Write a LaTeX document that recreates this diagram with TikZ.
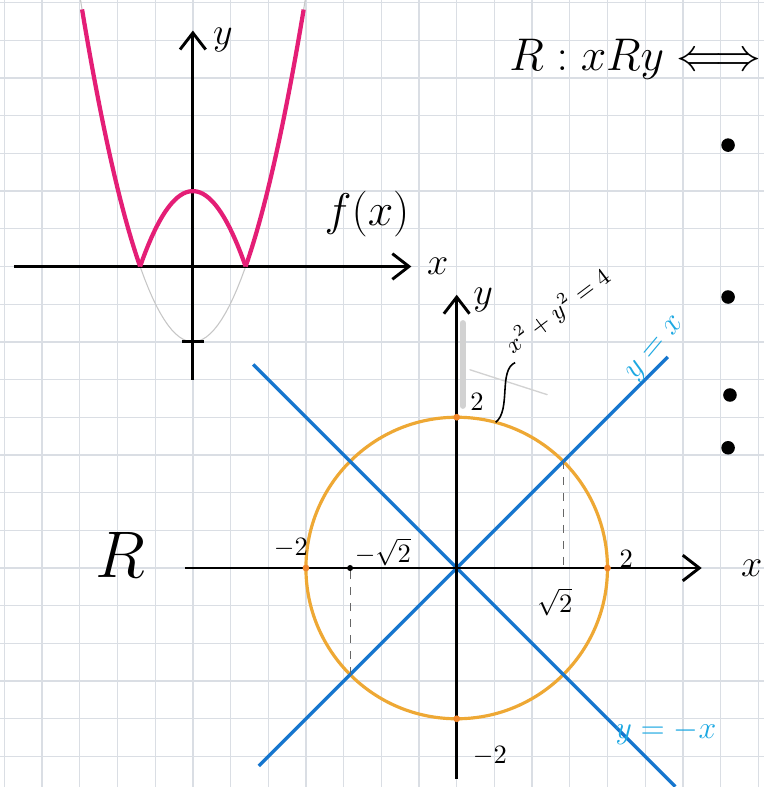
\documentclass[tikz,border=0pt]{standalone}
\usetikzlibrary{arrows.meta}

\definecolor{fxpink}{RGB}{228,30,118}
\definecolor{circorange}{RGB}{238,168,52}
\definecolor{linesblue}{RGB}{22,118,206}
\definecolor{labelcyan}{RGB}{28,168,226}
\definecolor{gridgray}{RGB}{218,222,228}

\tikzset{
  gridline/.style={gridgray, line width=0.5pt},
  axis/.style={line width=1.1pt, ->},
  fxcurve/.style={fxpink, line width=1.6pt, line join=round},
  ghost/.style={gray!45, line width=0.4pt},
  circ/.style={circorange, line width=1.2pt},
  diag/.style={linesblue, line width=1.3pt},
  helper/.style={dashed, line width=0.4pt, gray!80!black},
  pencil/.style={gray!35, line cap=round},
  lbl/.style={font=\fontsize{10}{12}\selectfont},
  axlbl/.style={font=\fontsize{14}{16}\selectfont},
  bluelbl/.style={labelcyan, font=\fontsize{12}{14}\selectfont},
  bullet/.style={circle, fill=black, inner sep=0pt, minimum size=1.8mm}
}

\begin{document}
\begin{tikzpicture}[x=0.5cm, y=0.5cm, >={Straight Barb[length=2.2mm,width=3.4mm]}]

  \useasboundingbox[fill=white] (-0.117,-0.81) rectangle (20.147,20.07);
  \foreach \i in {0,...,20}
    \draw[gridline] (\i,-0.81) -- (\i,20.07);
  \foreach \j in {0,...,20}
    \draw[gridline] (-0.117,\j) -- (20.147,\j);

  % f(x) = |x^2-1|
  \begin{scope}[shift={(5,13)}, x=0.7cm, y=1cm]
    \coordinate (fxleft) at (-3.39,0);
    \coordinate (fxright) at (4.14,0);
    \coordinate (fybottom) at (0,-1.5);
    \coordinate (fytop) at (0,3.13);
    \coordinate (fvertex) at (0,-1);
    \draw[ghost] plot[domain=-2.15:2.15, samples=60] (\x,{(\x)*(\x)-1});
    \draw[axis] (fxleft) -- (fxright);
    \draw[axis] (fybottom) -- (fytop);
    \draw[line width=1.1pt] ([xshift=-1.5mm]fvertex) -- ([xshift=1.5mm]fvertex);
    \draw[fxcurve] plot[domain=-2.1:-1, samples=30] (\x,{(\x)*(\x)-1});
    \draw[fxcurve] plot[domain=-1:1, samples=40] (\x,{1-(\x)*(\x)});
    \draw[fxcurve] plot[domain=1:2.1, samples=30] (\x,{(\x)*(\x)-1});
  \end{scope}
  \node[axlbl] (fylabel) at (5.8,19.0) {$y$};
  \node[axlbl] (fxlabel) at (11.5,13.0) {$x$};
  \node[font=\fontsize{17}{19}\selectfont] (fname) at (9.62,14.4) {$f(x)$};

  % relation R
  \node[font=\fontsize{16}{18}\selectfont, anchor=west] (reldef) at (13.15,18.5)
    {$R : xRy \Longleftrightarrow$};
  \node[bullet] (b1) at (19.2,16.22) {};
  \node[bullet] (b2) at (19.2,12.19) {};
  \node[bullet] (b3) at (19.25,9.59) {};
  \node[bullet] (b4) at (19.2,8.19) {};
  \node[font=\fontsize{26}{28}\selectfont] (rname) at (3.07,5.35) {$R$};

  % x^2+y^2=4, y=x, y=-x
  \begin{scope}[shift={(12,5)}]
    \coordinate (o) at (0,0);
    \coordinate (cxleft) at (-7.2,0);
    \coordinate (cxright) at (6.5,0);
    \coordinate (cybottom) at (0,-5.6);
    \coordinate (cytop) at (0,7.25);
    \coordinate (ne) at (45:4);
    \coordinate (sw) at (225:4);
    \coordinate (lead) at (75:4);
    \draw[pencil, line width=2.2pt] (0.16,6.5) -- (0.16,4.3);
    \draw[pencil, line width=0.5pt] (0.35,5.26) -- (2.4,4.6);
    \draw[circ] (o) circle (4);
    \draw[diag] (-5.25,-5.25) -- (5.6,5.6);
    \draw[diag] (-5.4,5.4) -- (5.8,-5.8);
    \draw[helper] (ne) -- (ne |- o);
    \draw[helper] (sw) -- (sw |- o);
    \draw[axis] (cxleft) -- (cxright);
    \draw[axis] (cybottom) -- (cytop);
    \foreach \p in {(4,0),(-4,0),(0,4),(0,-4)}
      \fill[circorange!80!red] \p circle (0.09);
    \fill (sw |- o) circle (0.08);
    \node[axlbl] (cylabel) at (0.7,7.1) {$y$};
    \node[axlbl] (cxlabel) at (7.83,0) {$x$};
    \node[lbl] (mtwo) at (-4.4,0.53) {$-2$};
    \node[lbl] (msq) at (-1.96,0.43) {$-\sqrt{2}$};
    \node[lbl] (ptwo) at (4.5,0.25) {$2$};
    \node[lbl] (psq) at (2.6,-0.9) {$\sqrt{2}$};
    \node[lbl] (ttwo) at (0.54,4.41) {$2$};
    \node[lbl] (btwo) at (0.88,-4.98) {$-2$};
    \node[font=\fontsize{9}{11}\selectfont, rotate=37, anchor=south west, inner sep=1pt] (eq) at (1.55,5.45) {$x^2+y^2=4$};
    \draw[line width=0.6pt] (eq.south west) .. controls (1.1,5.25) and (1.45,4.2) .. (lead);
    \node[bluelbl, rotate=50] (idlabel) at (5.3,5.8) {$y=x$};
    \node[bluelbl] (antilabel) at (5.55,-4.37) {$y=-x$};
  \end{scope}

\end{tikzpicture}
\end{document}
